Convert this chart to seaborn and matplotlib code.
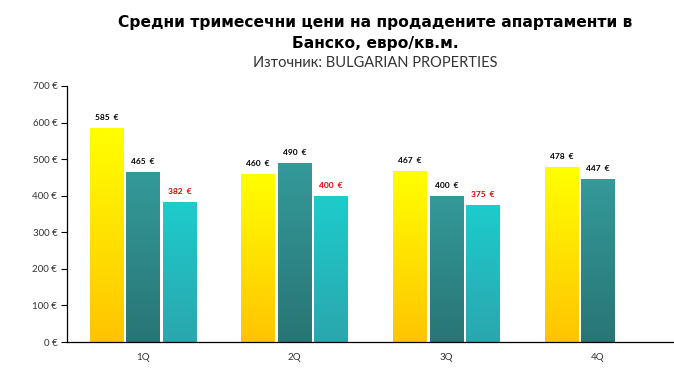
import numpy as np
import pandas as pd
import matplotlib
matplotlib.use("Agg")
import matplotlib.pyplot as plt
import seaborn as sns
from matplotlib.colors import LinearSegmentedColormap

quarters = ["1Q", "2Q", "3Q", "4Q"]
series_names = ["Серия 1", "Серия 2", "Серия 3"]
values_s1 = [585, 460, 467, 478]
values_s2 = [465, 490, 400, 447]
values_s3 = [382, 400, 375, np.nan]
yticks = [0, 100, 200, 300, 400, 500, 600, 700]

sns.set_theme(style="white")
plt.rcParams['font.family'] = ['Lato', 'DejaVu Sans']

rows = []
for name, vals in zip(series_names, [values_s1, values_s2, values_s3]):
    for q, v in zip(quarters, vals):
        rows.append({"quarter": q, "series": name, "value": v})
df = pd.DataFrame(rows)

grad = {
    "Серия 1": ("#FFFF00", "#FFC400"),
    "Серия 2": ("#349A9A", "#297575"),
    "Серия 3": ("#1DCCCC", "#2BA6AE"),
}
label_color = {"Серия 1": "black", "Серия 2": "black", "Серия 3": "#E00000"}

fig = plt.figure(figsize=(6.74, 3.77), dpi=100)
ax = fig.add_axes([0.0994, 0.0928, 0.9006, 0.6792])

sns.barplot(data=df, x="quarter", y="value", hue="series", order=quarters,
            hue_order=series_names, palette=[grad[s][0] for s in series_names],
            width=0.72, gap=0.08, legend=False, ax=ax, errorbar=None)

ax.set_ylim(0, 700)
for cont, name in zip(ax.containers, series_names):
    top_c, bot_c = grad[name]
    cmap = LinearSegmentedColormap.from_list(name, [bot_c, top_c])
    for bar in cont:
        h = bar.get_height()
        if not np.isfinite(h) or h <= 0:
            continue
        x0 = bar.get_x()
        w = bar.get_width()
        bar.set_facecolor("none")
        bar.set_edgecolor("none")
        g = np.linspace(0, 1, 256).reshape(-1, 1)
        im = ax.imshow(g, cmap=cmap, origin="lower", aspect="auto",
                       extent=[x0, x0 + w, 0, h], zorder=2)
        im.set_clip_path(bar)
        ax.annotate(f"{int(h)}  €", (x0 + w / 2, h), xytext=(0, 5),
                    textcoords="offset points", ha="center", va="bottom",
                    fontsize=6, fontweight="bold", color=label_color[name])

ax.set_xlim(-0.5, 3.5)
ax.set_ylim(0, 700)
ax.set_yticks(yticks)
ax.set_yticklabels([f"{v} €" for v in yticks], fontsize=7, color="#333333")
ax.set_xticks(range(4))
ax.set_xticklabels(quarters, fontsize=7, color="#333333")
ax.set_xticks([-0.5, 0.5, 1.5, 2.5], minor=True)
ax.tick_params(axis="x", which="major", length=0, pad=8)
ax.tick_params(axis="x", which="minor", length=4, width=0.8, color="black", direction="out")
ax.tick_params(axis="y", length=4, width=0.8, color="black", direction="out", pad=3, left=True)
ax.set_xlabel("")
ax.set_ylabel("")
for s in ["top", "right"]:
    ax.spines[s].set_visible(False)
for s in ["left", "bottom"]:
    ax.spines[s].set_color("black")
    ax.spines[s].set_linewidth(0.9)
ax.grid(False)

fig.text(0.557, 0.94, "Средни тримесечни цени на продадените апартаменти в",
         ha="center", va="center", fontsize=11.2, fontweight="bold", color="black",
         family=["DejaVu Sans"])
fig.text(0.557, 0.884, "Банско, евро/кв.м.",
         ha="center", va="center", fontsize=11.2, fontweight="bold", color="black",
         family=["DejaVu Sans"])
fig.text(0.557, 0.834, "Източник: BULGARIAN PROPERTIES",
         ha="center", va="center", fontsize=10.5, color="#333333")

fig.savefig("out.png", dpi=100)
